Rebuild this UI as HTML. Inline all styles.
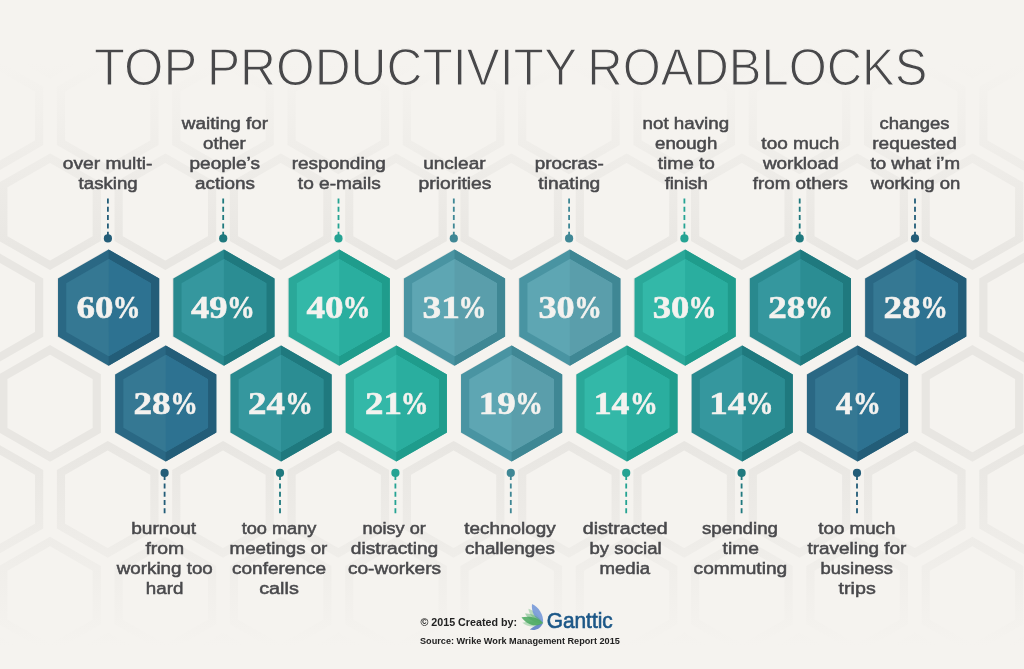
<!DOCTYPE html><html><head><meta charset="utf-8"><title>Top Productivity Roadblocks</title>
<style>html,body{margin:0;padding:0;background:#f5f3ef;overflow:hidden}svg{display:block}.t{font-family:"Liberation Sans",sans-serif;font-size:52.4px;fill:#48484a;stroke:#f5f3ef;stroke-width:1.25px}.l{font-family:"Liberation Sans",sans-serif;font-size:16.3px;fill:#49494c;stroke:#49494c;stroke-width:0.5px}.n{font-family:"Liberation Serif",serif;font-size:32.6px;font-weight:bold;fill:#f4f2ef;stroke:#f4f2ef;stroke-width:0.6px}.f1{font-family:"Liberation Sans",sans-serif;font-size:10px;font-weight:bold;fill:#222}.f2{font-family:"Liberation Sans",sans-serif;font-size:8.8px;font-weight:bold;fill:#222}.g{font-family:"Liberation Sans",sans-serif;font-size:22.5px;fill:#1c5787;stroke:#1c5787;stroke-width:0.65px}</style></head><body>
<svg width="1024" height="669" viewBox="0 0 1024 669">
<defs><linearGradient id="fade" x1="0" y1="0" x2="0" y2="1"><stop offset="0" stop-color="#f5f3ef" stop-opacity="1"/><stop offset="0.095" stop-color="#f5f3ef" stop-opacity="1"/><stop offset="0.39" stop-color="#f5f3ef" stop-opacity="0"/><stop offset="0.66" stop-color="#f5f3ef" stop-opacity="0"/><stop offset="0.965" stop-color="#f5f3ef" stop-opacity="1"/><stop offset="1" stop-color="#f5f3ef" stop-opacity="1"/></linearGradient></defs>
<rect width="1024" height="669" fill="#f5f3ef"/>
<g fill="none" stroke="#e8e6e2" stroke-width="8.2">
<polygon points="-122.90,-129.43 -76.18,-102.61 -76.18,-48.99 -122.90,-22.17 -169.62,-48.99 -169.62,-102.61"/>
<polygon points="-7.60,-129.43 39.12,-102.61 39.12,-48.99 -7.60,-22.17 -54.32,-48.99 -54.32,-102.61"/>
<polygon points="107.70,-129.43 154.42,-102.61 154.42,-48.99 107.70,-22.17 60.98,-48.99 60.98,-102.61"/>
<polygon points="223.00,-129.43 269.72,-102.61 269.72,-48.99 223.00,-22.17 176.28,-48.99 176.28,-102.61"/>
<polygon points="338.30,-129.43 385.02,-102.61 385.02,-48.99 338.30,-22.17 291.58,-48.99 291.58,-102.61"/>
<polygon points="453.60,-129.43 500.32,-102.61 500.32,-48.99 453.60,-22.17 406.88,-48.99 406.88,-102.61"/>
<polygon points="568.90,-129.43 615.62,-102.61 615.62,-48.99 568.90,-22.17 522.18,-48.99 522.18,-102.61"/>
<polygon points="684.20,-129.43 730.92,-102.61 730.92,-48.99 684.20,-22.17 637.48,-48.99 637.48,-102.61"/>
<polygon points="799.50,-129.43 846.22,-102.61 846.22,-48.99 799.50,-22.17 752.78,-48.99 752.78,-102.61"/>
<polygon points="914.80,-129.43 961.52,-102.61 961.52,-48.99 914.80,-22.17 868.08,-48.99 868.08,-102.61"/>
<polygon points="1030.10,-129.43 1076.82,-102.61 1076.82,-48.99 1030.10,-22.17 983.38,-48.99 983.38,-102.61"/>
<polygon points="1145.40,-129.43 1192.12,-102.61 1192.12,-48.99 1145.40,-22.17 1098.68,-48.99 1098.68,-102.61"/>
<polygon points="-65.25,-33.58 -18.53,-6.76 -18.53,46.86 -65.25,73.68 -111.97,46.86 -111.97,-6.76"/>
<polygon points="50.05,-33.58 96.77,-6.76 96.77,46.86 50.05,73.68 3.33,46.86 3.33,-6.76"/>
<polygon points="165.35,-33.58 212.07,-6.76 212.07,46.86 165.35,73.68 118.63,46.86 118.63,-6.76"/>
<polygon points="280.65,-33.58 327.37,-6.76 327.37,46.86 280.65,73.68 233.93,46.86 233.93,-6.76"/>
<polygon points="395.95,-33.58 442.67,-6.76 442.67,46.86 395.95,73.68 349.23,46.86 349.23,-6.76"/>
<polygon points="511.25,-33.58 557.97,-6.76 557.97,46.86 511.25,73.68 464.53,46.86 464.53,-6.76"/>
<polygon points="626.55,-33.58 673.27,-6.76 673.27,46.86 626.55,73.68 579.83,46.86 579.83,-6.76"/>
<polygon points="741.85,-33.58 788.57,-6.76 788.57,46.86 741.85,73.68 695.13,46.86 695.13,-6.76"/>
<polygon points="857.15,-33.58 903.87,-6.76 903.87,46.86 857.15,73.68 810.43,46.86 810.43,-6.76"/>
<polygon points="972.45,-33.58 1019.17,-6.76 1019.17,46.86 972.45,73.68 925.73,46.86 925.73,-6.76"/>
<polygon points="1087.75,-33.58 1134.47,-6.76 1134.47,46.86 1087.75,73.68 1041.03,46.86 1041.03,-6.76"/>
<polygon points="1203.05,-33.58 1249.77,-6.76 1249.77,46.86 1203.05,73.68 1156.33,46.86 1156.33,-6.76"/>
<polygon points="-122.90,62.27 -76.18,89.09 -76.18,142.71 -122.90,169.53 -169.62,142.71 -169.62,89.09"/>
<polygon points="-7.60,62.27 39.12,89.09 39.12,142.71 -7.60,169.53 -54.32,142.71 -54.32,89.09"/>
<polygon points="107.70,62.27 154.42,89.09 154.42,142.71 107.70,169.53 60.98,142.71 60.98,89.09"/>
<polygon points="223.00,62.27 269.72,89.09 269.72,142.71 223.00,169.53 176.28,142.71 176.28,89.09"/>
<polygon points="338.30,62.27 385.02,89.09 385.02,142.71 338.30,169.53 291.58,142.71 291.58,89.09"/>
<polygon points="453.60,62.27 500.32,89.09 500.32,142.71 453.60,169.53 406.88,142.71 406.88,89.09"/>
<polygon points="568.90,62.27 615.62,89.09 615.62,142.71 568.90,169.53 522.18,142.71 522.18,89.09"/>
<polygon points="684.20,62.27 730.92,89.09 730.92,142.71 684.20,169.53 637.48,142.71 637.48,89.09"/>
<polygon points="799.50,62.27 846.22,89.09 846.22,142.71 799.50,169.53 752.78,142.71 752.78,89.09"/>
<polygon points="914.80,62.27 961.52,89.09 961.52,142.71 914.80,169.53 868.08,142.71 868.08,89.09"/>
<polygon points="1030.10,62.27 1076.82,89.09 1076.82,142.71 1030.10,169.53 983.38,142.71 983.38,89.09"/>
<polygon points="1145.40,62.27 1192.12,89.09 1192.12,142.71 1145.40,169.53 1098.68,142.71 1098.68,89.09"/>
<polygon points="-65.25,158.12 -18.53,184.94 -18.53,238.56 -65.25,265.38 -111.97,238.56 -111.97,184.94"/>
<polygon points="50.05,158.12 96.77,184.94 96.77,238.56 50.05,265.38 3.33,238.56 3.33,184.94"/>
<polygon points="165.35,158.12 212.07,184.94 212.07,238.56 165.35,265.38 118.63,238.56 118.63,184.94"/>
<polygon points="280.65,158.12 327.37,184.94 327.37,238.56 280.65,265.38 233.93,238.56 233.93,184.94"/>
<polygon points="395.95,158.12 442.67,184.94 442.67,238.56 395.95,265.38 349.23,238.56 349.23,184.94"/>
<polygon points="511.25,158.12 557.97,184.94 557.97,238.56 511.25,265.38 464.53,238.56 464.53,184.94"/>
<polygon points="626.55,158.12 673.27,184.94 673.27,238.56 626.55,265.38 579.83,238.56 579.83,184.94"/>
<polygon points="741.85,158.12 788.57,184.94 788.57,238.56 741.85,265.38 695.13,238.56 695.13,184.94"/>
<polygon points="857.15,158.12 903.87,184.94 903.87,238.56 857.15,265.38 810.43,238.56 810.43,184.94"/>
<polygon points="972.45,158.12 1019.17,184.94 1019.17,238.56 972.45,265.38 925.73,238.56 925.73,184.94"/>
<polygon points="1087.75,158.12 1134.47,184.94 1134.47,238.56 1087.75,265.38 1041.03,238.56 1041.03,184.94"/>
<polygon points="1203.05,158.12 1249.77,184.94 1249.77,238.56 1203.05,265.38 1156.33,238.56 1156.33,184.94"/>
<polygon points="-122.90,253.97 -76.18,280.79 -76.18,334.41 -122.90,361.23 -169.62,334.41 -169.62,280.79"/>
<polygon points="-7.60,253.97 39.12,280.79 39.12,334.41 -7.60,361.23 -54.32,334.41 -54.32,280.79"/>
<polygon points="107.70,253.97 154.42,280.79 154.42,334.41 107.70,361.23 60.98,334.41 60.98,280.79"/>
<polygon points="223.00,253.97 269.72,280.79 269.72,334.41 223.00,361.23 176.28,334.41 176.28,280.79"/>
<polygon points="338.30,253.97 385.02,280.79 385.02,334.41 338.30,361.23 291.58,334.41 291.58,280.79"/>
<polygon points="453.60,253.97 500.32,280.79 500.32,334.41 453.60,361.23 406.88,334.41 406.88,280.79"/>
<polygon points="568.90,253.97 615.62,280.79 615.62,334.41 568.90,361.23 522.18,334.41 522.18,280.79"/>
<polygon points="684.20,253.97 730.92,280.79 730.92,334.41 684.20,361.23 637.48,334.41 637.48,280.79"/>
<polygon points="799.50,253.97 846.22,280.79 846.22,334.41 799.50,361.23 752.78,334.41 752.78,280.79"/>
<polygon points="914.80,253.97 961.52,280.79 961.52,334.41 914.80,361.23 868.08,334.41 868.08,280.79"/>
<polygon points="1030.10,253.97 1076.82,280.79 1076.82,334.41 1030.10,361.23 983.38,334.41 983.38,280.79"/>
<polygon points="1145.40,253.97 1192.12,280.79 1192.12,334.41 1145.40,361.23 1098.68,334.41 1098.68,280.79"/>
<polygon points="-65.25,349.82 -18.53,376.64 -18.53,430.26 -65.25,457.08 -111.97,430.26 -111.97,376.64"/>
<polygon points="50.05,349.82 96.77,376.64 96.77,430.26 50.05,457.08 3.33,430.26 3.33,376.64"/>
<polygon points="165.35,349.82 212.07,376.64 212.07,430.26 165.35,457.08 118.63,430.26 118.63,376.64"/>
<polygon points="280.65,349.82 327.37,376.64 327.37,430.26 280.65,457.08 233.93,430.26 233.93,376.64"/>
<polygon points="395.95,349.82 442.67,376.64 442.67,430.26 395.95,457.08 349.23,430.26 349.23,376.64"/>
<polygon points="511.25,349.82 557.97,376.64 557.97,430.26 511.25,457.08 464.53,430.26 464.53,376.64"/>
<polygon points="626.55,349.82 673.27,376.64 673.27,430.26 626.55,457.08 579.83,430.26 579.83,376.64"/>
<polygon points="741.85,349.82 788.57,376.64 788.57,430.26 741.85,457.08 695.13,430.26 695.13,376.64"/>
<polygon points="857.15,349.82 903.87,376.64 903.87,430.26 857.15,457.08 810.43,430.26 810.43,376.64"/>
<polygon points="972.45,349.82 1019.17,376.64 1019.17,430.26 972.45,457.08 925.73,430.26 925.73,376.64"/>
<polygon points="1087.75,349.82 1134.47,376.64 1134.47,430.26 1087.75,457.08 1041.03,430.26 1041.03,376.64"/>
<polygon points="1203.05,349.82 1249.77,376.64 1249.77,430.26 1203.05,457.08 1156.33,430.26 1156.33,376.64"/>
<polygon points="-122.90,445.67 -76.18,472.49 -76.18,526.11 -122.90,552.93 -169.62,526.11 -169.62,472.49"/>
<polygon points="-7.60,445.67 39.12,472.49 39.12,526.11 -7.60,552.93 -54.32,526.11 -54.32,472.49"/>
<polygon points="107.70,445.67 154.42,472.49 154.42,526.11 107.70,552.93 60.98,526.11 60.98,472.49"/>
<polygon points="223.00,445.67 269.72,472.49 269.72,526.11 223.00,552.93 176.28,526.11 176.28,472.49"/>
<polygon points="338.30,445.67 385.02,472.49 385.02,526.11 338.30,552.93 291.58,526.11 291.58,472.49"/>
<polygon points="453.60,445.67 500.32,472.49 500.32,526.11 453.60,552.93 406.88,526.11 406.88,472.49"/>
<polygon points="568.90,445.67 615.62,472.49 615.62,526.11 568.90,552.93 522.18,526.11 522.18,472.49"/>
<polygon points="684.20,445.67 730.92,472.49 730.92,526.11 684.20,552.93 637.48,526.11 637.48,472.49"/>
<polygon points="799.50,445.67 846.22,472.49 846.22,526.11 799.50,552.93 752.78,526.11 752.78,472.49"/>
<polygon points="914.80,445.67 961.52,472.49 961.52,526.11 914.80,552.93 868.08,526.11 868.08,472.49"/>
<polygon points="1030.10,445.67 1076.82,472.49 1076.82,526.11 1030.10,552.93 983.38,526.11 983.38,472.49"/>
<polygon points="1145.40,445.67 1192.12,472.49 1192.12,526.11 1145.40,552.93 1098.68,526.11 1098.68,472.49"/>
<polygon points="-65.25,541.52 -18.53,568.34 -18.53,621.96 -65.25,648.78 -111.97,621.96 -111.97,568.34"/>
<polygon points="50.05,541.52 96.77,568.34 96.77,621.96 50.05,648.78 3.33,621.96 3.33,568.34"/>
<polygon points="165.35,541.52 212.07,568.34 212.07,621.96 165.35,648.78 118.63,621.96 118.63,568.34"/>
<polygon points="280.65,541.52 327.37,568.34 327.37,621.96 280.65,648.78 233.93,621.96 233.93,568.34"/>
<polygon points="395.95,541.52 442.67,568.34 442.67,621.96 395.95,648.78 349.23,621.96 349.23,568.34"/>
<polygon points="511.25,541.52 557.97,568.34 557.97,621.96 511.25,648.78 464.53,621.96 464.53,568.34"/>
<polygon points="626.55,541.52 673.27,568.34 673.27,621.96 626.55,648.78 579.83,621.96 579.83,568.34"/>
<polygon points="741.85,541.52 788.57,568.34 788.57,621.96 741.85,648.78 695.13,621.96 695.13,568.34"/>
<polygon points="857.15,541.52 903.87,568.34 903.87,621.96 857.15,648.78 810.43,621.96 810.43,568.34"/>
<polygon points="972.45,541.52 1019.17,568.34 1019.17,621.96 972.45,648.78 925.73,621.96 925.73,568.34"/>
<polygon points="1087.75,541.52 1134.47,568.34 1134.47,621.96 1087.75,648.78 1041.03,621.96 1041.03,568.34"/>
<polygon points="1203.05,541.52 1249.77,568.34 1249.77,621.96 1203.05,648.78 1156.33,621.96 1156.33,568.34"/>
<polygon points="-122.90,637.37 -76.18,664.19 -76.18,717.81 -122.90,744.63 -169.62,717.81 -169.62,664.19"/>
<polygon points="-7.60,637.37 39.12,664.19 39.12,717.81 -7.60,744.63 -54.32,717.81 -54.32,664.19"/>
<polygon points="107.70,637.37 154.42,664.19 154.42,717.81 107.70,744.63 60.98,717.81 60.98,664.19"/>
<polygon points="223.00,637.37 269.72,664.19 269.72,717.81 223.00,744.63 176.28,717.81 176.28,664.19"/>
<polygon points="338.30,637.37 385.02,664.19 385.02,717.81 338.30,744.63 291.58,717.81 291.58,664.19"/>
<polygon points="453.60,637.37 500.32,664.19 500.32,717.81 453.60,744.63 406.88,717.81 406.88,664.19"/>
<polygon points="568.90,637.37 615.62,664.19 615.62,717.81 568.90,744.63 522.18,717.81 522.18,664.19"/>
<polygon points="684.20,637.37 730.92,664.19 730.92,717.81 684.20,744.63 637.48,717.81 637.48,664.19"/>
<polygon points="799.50,637.37 846.22,664.19 846.22,717.81 799.50,744.63 752.78,717.81 752.78,664.19"/>
<polygon points="914.80,637.37 961.52,664.19 961.52,717.81 914.80,744.63 868.08,717.81 868.08,664.19"/>
<polygon points="1030.10,637.37 1076.82,664.19 1076.82,717.81 1030.10,744.63 983.38,717.81 983.38,664.19"/>
<polygon points="1145.40,637.37 1192.12,664.19 1192.12,717.81 1145.40,744.63 1098.68,717.81 1098.68,664.19"/>
</g>
<rect width="1024" height="669" fill="url(#fade)"/>
<polygon points="108.60,249.55 159.18,278.58 159.18,336.62 108.60,365.65 58.02,336.62 58.02,278.58" fill="#2a6884"/>
<polygon points="108.60,249.55 159.18,278.58 159.18,336.62 108.60,365.65" fill="#235d78"/>
<polygon points="108.60,258.99 150.95,283.30 150.95,331.90 108.60,356.21 66.25,331.90 66.25,283.30" fill="#357893"/>
<polygon points="108.60,258.99 150.95,283.30 150.95,331.90 108.60,356.21" fill="#2d7291"/>
<line x1="107.9" y1="198.5" x2="107.9" y2="238" stroke="#235d78" stroke-width="1.8" stroke-dasharray="5 3.3"/>
<circle cx="107.9" cy="238.4" r="4.1" fill="#235d78"/>
<polygon points="223.90,249.55 274.48,278.58 274.48,336.62 223.90,365.65 173.32,336.62 173.32,278.58" fill="#29898e"/>
<polygon points="223.90,249.55 274.48,278.58 274.48,336.62 223.90,365.65" fill="#1f797e"/>
<polygon points="223.90,258.99 266.25,283.30 266.25,331.90 223.90,356.21 181.55,331.90 181.55,283.30" fill="#35979e"/>
<polygon points="223.90,258.99 266.25,283.30 266.25,331.90 223.90,356.21" fill="#2b8d93"/>
<line x1="223.2" y1="198.5" x2="223.2" y2="238" stroke="#1f797e" stroke-width="1.8" stroke-dasharray="5 3.3"/>
<circle cx="223.2" cy="238.4" r="4.1" fill="#1f797e"/>
<polygon points="339.20,249.55 389.78,278.58 389.78,336.62 339.20,365.65 288.62,336.62 288.62,278.58" fill="#2aa899"/>
<polygon points="339.20,249.55 389.78,278.58 389.78,336.62 339.20,365.65" fill="#1f9c8c"/>
<polygon points="339.20,258.99 381.55,283.30 381.55,331.90 339.20,356.21 296.85,331.90 296.85,283.30" fill="#33b8a8"/>
<polygon points="339.20,258.99 381.55,283.30 381.55,331.90 339.20,356.21" fill="#2aae9f"/>
<line x1="338.5" y1="198.5" x2="338.5" y2="238" stroke="#25a393" stroke-width="1.8" stroke-dasharray="5 3.3"/>
<circle cx="338.5" cy="238.4" r="4.1" fill="#25a393"/>
<polygon points="454.50,249.55 505.08,278.58 505.08,336.62 454.50,365.65 403.92,336.62 403.92,278.58" fill="#4994a2"/>
<polygon points="454.50,249.55 505.08,278.58 505.08,336.62 454.50,365.65" fill="#3f8794"/>
<polygon points="454.50,258.99 496.85,283.30 496.85,331.90 454.50,356.21 412.15,331.90 412.15,283.30" fill="#5ea6b3"/>
<polygon points="454.50,258.99 496.85,283.30 496.85,331.90 454.50,356.21" fill="#5a9eab"/>
<line x1="453.8" y1="198.5" x2="453.8" y2="238" stroke="#3f8795" stroke-width="1.8" stroke-dasharray="5 3.3"/>
<circle cx="453.8" cy="238.4" r="4.1" fill="#3f8795"/>
<polygon points="569.80,249.55 620.38,278.58 620.38,336.62 569.80,365.65 519.22,336.62 519.22,278.58" fill="#4994a2"/>
<polygon points="569.80,249.55 620.38,278.58 620.38,336.62 569.80,365.65" fill="#3f8794"/>
<polygon points="569.80,258.99 612.15,283.30 612.15,331.90 569.80,356.21 527.45,331.90 527.45,283.30" fill="#5ea6b3"/>
<polygon points="569.80,258.99 612.15,283.30 612.15,331.90 569.80,356.21" fill="#5a9eab"/>
<line x1="569.1" y1="198.5" x2="569.1" y2="238" stroke="#3f8795" stroke-width="1.8" stroke-dasharray="5 3.3"/>
<circle cx="569.1" cy="238.4" r="4.1" fill="#3f8795"/>
<polygon points="685.10,249.55 735.68,278.58 735.68,336.62 685.10,365.65 634.52,336.62 634.52,278.58" fill="#2aa899"/>
<polygon points="685.10,249.55 735.68,278.58 735.68,336.62 685.10,365.65" fill="#1f9c8c"/>
<polygon points="685.10,258.99 727.45,283.30 727.45,331.90 685.10,356.21 642.75,331.90 642.75,283.30" fill="#33b8a8"/>
<polygon points="685.10,258.99 727.45,283.30 727.45,331.90 685.10,356.21" fill="#2aae9f"/>
<line x1="684.4" y1="198.5" x2="684.4" y2="238" stroke="#25a393" stroke-width="1.8" stroke-dasharray="5 3.3"/>
<circle cx="684.4" cy="238.4" r="4.1" fill="#25a393"/>
<polygon points="800.40,249.55 850.98,278.58 850.98,336.62 800.40,365.65 749.82,336.62 749.82,278.58" fill="#29898e"/>
<polygon points="800.40,249.55 850.98,278.58 850.98,336.62 800.40,365.65" fill="#1f797e"/>
<polygon points="800.40,258.99 842.75,283.30 842.75,331.90 800.40,356.21 758.05,331.90 758.05,283.30" fill="#35979e"/>
<polygon points="800.40,258.99 842.75,283.30 842.75,331.90 800.40,356.21" fill="#2b8d93"/>
<line x1="799.7" y1="198.5" x2="799.7" y2="238" stroke="#1f797e" stroke-width="1.8" stroke-dasharray="5 3.3"/>
<circle cx="799.7" cy="238.4" r="4.1" fill="#1f797e"/>
<polygon points="915.70,249.55 966.28,278.58 966.28,336.62 915.70,365.65 865.12,336.62 865.12,278.58" fill="#2a6884"/>
<polygon points="915.70,249.55 966.28,278.58 966.28,336.62 915.70,365.65" fill="#235d78"/>
<polygon points="915.70,258.99 958.05,283.30 958.05,331.90 915.70,356.21 873.35,331.90 873.35,283.30" fill="#357893"/>
<polygon points="915.70,258.99 958.05,283.30 958.05,331.90 915.70,356.21" fill="#2d7291"/>
<line x1="915.0" y1="198.5" x2="915.0" y2="238" stroke="#235d78" stroke-width="1.8" stroke-dasharray="5 3.3"/>
<circle cx="915.0" cy="238.4" r="4.1" fill="#235d78"/>
<polygon points="165.70,345.40 216.28,374.43 216.28,432.47 165.70,461.50 115.12,432.47 115.12,374.43" fill="#2a6884"/>
<polygon points="165.70,345.40 216.28,374.43 216.28,432.47 165.70,461.50" fill="#235d78"/>
<polygon points="165.70,354.84 208.05,379.15 208.05,427.75 165.70,452.06 123.35,427.75 123.35,379.15" fill="#357893"/>
<polygon points="165.70,354.84 208.05,379.15 208.05,427.75 165.70,452.06" fill="#2d7291"/>
<line x1="164.6" y1="513.3" x2="164.6" y2="473" stroke="#235d78" stroke-width="1.8" stroke-dasharray="5 3.3"/>
<circle cx="164.6" cy="472.9" r="4.1" fill="#235d78"/>
<polygon points="281.00,345.40 331.58,374.43 331.58,432.47 281.00,461.50 230.42,432.47 230.42,374.43" fill="#29898e"/>
<polygon points="281.00,345.40 331.58,374.43 331.58,432.47 281.00,461.50" fill="#1f797e"/>
<polygon points="281.00,354.84 323.35,379.15 323.35,427.75 281.00,452.06 238.65,427.75 238.65,379.15" fill="#35979e"/>
<polygon points="281.00,354.84 323.35,379.15 323.35,427.75 281.00,452.06" fill="#2b8d93"/>
<line x1="280.0" y1="513.3" x2="280.0" y2="473" stroke="#1f797e" stroke-width="1.8" stroke-dasharray="5 3.3"/>
<circle cx="280.0" cy="472.9" r="4.1" fill="#1f797e"/>
<polygon points="396.30,345.40 446.88,374.43 446.88,432.47 396.30,461.50 345.72,432.47 345.72,374.43" fill="#2aa899"/>
<polygon points="396.30,345.40 446.88,374.43 446.88,432.47 396.30,461.50" fill="#1f9c8c"/>
<polygon points="396.30,354.84 438.65,379.15 438.65,427.75 396.30,452.06 353.95,427.75 353.95,379.15" fill="#33b8a8"/>
<polygon points="396.30,354.84 438.65,379.15 438.65,427.75 396.30,452.06" fill="#2aae9f"/>
<line x1="395.4" y1="513.3" x2="395.4" y2="473" stroke="#25a393" stroke-width="1.8" stroke-dasharray="5 3.3"/>
<circle cx="395.4" cy="472.9" r="4.1" fill="#25a393"/>
<polygon points="511.60,345.40 562.18,374.43 562.18,432.47 511.60,461.50 461.02,432.47 461.02,374.43" fill="#4994a2"/>
<polygon points="511.60,345.40 562.18,374.43 562.18,432.47 511.60,461.50" fill="#3f8794"/>
<polygon points="511.60,354.84 553.95,379.15 553.95,427.75 511.60,452.06 469.25,427.75 469.25,379.15" fill="#5ea6b3"/>
<polygon points="511.60,354.84 553.95,379.15 553.95,427.75 511.60,452.06" fill="#5a9eab"/>
<line x1="510.8" y1="513.3" x2="510.8" y2="473" stroke="#3f8795" stroke-width="1.8" stroke-dasharray="5 3.3"/>
<circle cx="510.8" cy="472.9" r="4.1" fill="#3f8795"/>
<polygon points="626.90,345.40 677.48,374.43 677.48,432.47 626.90,461.50 576.32,432.47 576.32,374.43" fill="#2aa899"/>
<polygon points="626.90,345.40 677.48,374.43 677.48,432.47 626.90,461.50" fill="#1f9c8c"/>
<polygon points="626.90,354.84 669.25,379.15 669.25,427.75 626.90,452.06 584.55,427.75 584.55,379.15" fill="#33b8a8"/>
<polygon points="626.90,354.84 669.25,379.15 669.25,427.75 626.90,452.06" fill="#2aae9f"/>
<line x1="626.2" y1="513.3" x2="626.2" y2="473" stroke="#25a393" stroke-width="1.8" stroke-dasharray="5 3.3"/>
<circle cx="626.2" cy="472.9" r="4.1" fill="#25a393"/>
<polygon points="742.20,345.40 792.78,374.43 792.78,432.47 742.20,461.50 691.62,432.47 691.62,374.43" fill="#29898e"/>
<polygon points="742.20,345.40 792.78,374.43 792.78,432.47 742.20,461.50" fill="#1f797e"/>
<polygon points="742.20,354.84 784.55,379.15 784.55,427.75 742.20,452.06 699.85,427.75 699.85,379.15" fill="#35979e"/>
<polygon points="742.20,354.84 784.55,379.15 784.55,427.75 742.20,452.06" fill="#2b8d93"/>
<line x1="741.6" y1="513.3" x2="741.6" y2="473" stroke="#1f797e" stroke-width="1.8" stroke-dasharray="5 3.3"/>
<circle cx="741.6" cy="472.9" r="4.1" fill="#1f797e"/>
<polygon points="857.50,345.40 908.08,374.43 908.08,432.47 857.50,461.50 806.92,432.47 806.92,374.43" fill="#2a6884"/>
<polygon points="857.50,345.40 908.08,374.43 908.08,432.47 857.50,461.50" fill="#235d78"/>
<polygon points="857.50,354.84 899.85,379.15 899.85,427.75 857.50,452.06 815.15,427.75 815.15,379.15" fill="#357893"/>
<polygon points="857.50,354.84 899.85,379.15 899.85,427.75 857.50,452.06" fill="#2d7291"/>
<line x1="857.0" y1="513.3" x2="857.0" y2="473" stroke="#235d78" stroke-width="1.8" stroke-dasharray="5 3.3"/>
<circle cx="857.0" cy="472.9" r="4.1" fill="#235d78"/>
<g><path d="M543.1,623 C539.5,615.5 533.5,610 528.4,608.8 C529,614.5 533.5,620.5 543.1,623Z" fill="#86c694" opacity="0.55"/><path d="M543.1,623 C535,620.6 528,621.3 522.4,622.7 C527,626.8 535.5,628.6 543.1,623Z" fill="#86c694" opacity="0.55"/><path d="M543.1,623 C543.8,614.5 538.5,607 532,604 C531.2,611 534,619 543.1,623Z" fill="#7396d8" opacity="0.88"/><path d="M543.1,623 C538,623.8 533,626.8 529.8,629.6 C535.5,631.2 540.5,628.4 543.1,623Z" fill="#5a7cc4" opacity="0.88"/><path d="M543.1,623 C538.5,616 531,613.2 525,613.6 C528,619.5 534.5,623.5 543.1,623Z" fill="#4fa866" opacity="0.45"/><path d="M543.1,623 C537,616.5 528,616 521.5,617.3 C526.5,624.5 535,628 543.1,623Z" fill="#48a75e" opacity="0.85"/></g>
<text class="l" x="62.69" y="168.5" textLength="89.72" lengthAdjust="spacingAndGlyphs">over multi-</text>
<text class="l" x="78.62" y="188.5" textLength="59.07" lengthAdjust="spacingAndGlyphs">tasking</text>
<text class="l" x="181.77" y="128.5" textLength="86.31" lengthAdjust="spacingAndGlyphs">waiting for</text>
<text class="l" x="203.02" y="148.5" textLength="42.72" lengthAdjust="spacingAndGlyphs">other</text>
<text class="l" x="189.56" y="168.5" textLength="70.43" lengthAdjust="spacingAndGlyphs">people’s</text>
<text class="l" x="195.02" y="188.5" textLength="59.81" lengthAdjust="spacingAndGlyphs">actions</text>
<text class="l" x="291.71" y="168.5" textLength="94.13" lengthAdjust="spacingAndGlyphs">responding</text>
<text class="l" x="297.83" y="188.5" textLength="82.89" lengthAdjust="spacingAndGlyphs">to e-mails</text>
<text class="l" x="423.21" y="168.5" textLength="62.40" lengthAdjust="spacingAndGlyphs">unclear</text>
<text class="l" x="418.47" y="188.5" textLength="73.06" lengthAdjust="spacingAndGlyphs">priorities</text>
<text class="l" x="534.67" y="168.5" textLength="69.11" lengthAdjust="spacingAndGlyphs">procras-</text>
<text class="l" x="538.38" y="188.5" textLength="61.88" lengthAdjust="spacingAndGlyphs">tinating</text>
<text class="l" x="642.62" y="128.5" textLength="86.45" lengthAdjust="spacingAndGlyphs">not having</text>
<text class="l" x="655.11" y="148.5" textLength="62.24" lengthAdjust="spacingAndGlyphs">enough</text>
<text class="l" x="657.83" y="168.5" textLength="57.08" lengthAdjust="spacingAndGlyphs">time to</text>
<text class="l" x="664.65" y="188.5" textLength="43.09" lengthAdjust="spacingAndGlyphs">finish</text>
<text class="l" x="761.39" y="148.5" textLength="78.02" lengthAdjust="spacingAndGlyphs">too much</text>
<text class="l" x="762.99" y="168.5" textLength="75.59" lengthAdjust="spacingAndGlyphs">workload</text>
<text class="l" x="752.82" y="188.5" textLength="94.98" lengthAdjust="spacingAndGlyphs">from others</text>
<text class="l" x="879.61" y="128.5" textLength="69.86" lengthAdjust="spacingAndGlyphs">changes</text>
<text class="l" x="872.27" y="148.5" textLength="84.46" lengthAdjust="spacingAndGlyphs">requested</text>
<text class="l" x="870.52" y="168.5" textLength="89.58" lengthAdjust="spacingAndGlyphs">to what i’m</text>
<text class="l" x="870.77" y="188.5" textLength="89.53" lengthAdjust="spacingAndGlyphs">working on</text>
<text class="l" x="131.18" y="534.0" textLength="64.95" lengthAdjust="spacingAndGlyphs">burnout</text>
<text class="l" x="145.41" y="554.0" textLength="38.78" lengthAdjust="spacingAndGlyphs">from</text>
<text class="l" x="116.73" y="574.0" textLength="96.07" lengthAdjust="spacingAndGlyphs">working too</text>
<text class="l" x="145.81" y="594.0" textLength="37.52" lengthAdjust="spacingAndGlyphs">hard</text>
<text class="l" x="241.67" y="534.0" textLength="74.75" lengthAdjust="spacingAndGlyphs">too many</text>
<text class="l" x="229.56" y="554.0" textLength="97.81" lengthAdjust="spacingAndGlyphs">meetings or</text>
<text class="l" x="232.02" y="574.0" textLength="94.01" lengthAdjust="spacingAndGlyphs">conference</text>
<text class="l" x="259.19" y="594.0" textLength="39.65" lengthAdjust="spacingAndGlyphs">calls</text>
<text class="l" x="362.41" y="534.0" textLength="63.37" lengthAdjust="spacingAndGlyphs">noisy or</text>
<text class="l" x="350.78" y="554.0" textLength="87.56" lengthAdjust="spacingAndGlyphs">distracting</text>
<text class="l" x="347.94" y="574.0" textLength="93.11" lengthAdjust="spacingAndGlyphs">co-workers</text>
<text class="l" x="464.38" y="534.0" textLength="91.22" lengthAdjust="spacingAndGlyphs">technology</text>
<text class="l" x="465.01" y="554.0" textLength="90.00" lengthAdjust="spacingAndGlyphs">challenges</text>
<text class="l" x="582.87" y="534.0" textLength="84.85" lengthAdjust="spacingAndGlyphs">distracted</text>
<text class="l" x="589.50" y="554.0" textLength="72.18" lengthAdjust="spacingAndGlyphs">by social</text>
<text class="l" x="599.43" y="574.0" textLength="50.73" lengthAdjust="spacingAndGlyphs">media</text>
<text class="l" x="701.95" y="534.0" textLength="76.09" lengthAdjust="spacingAndGlyphs">spending</text>
<text class="l" x="722.55" y="554.0" textLength="36.41" lengthAdjust="spacingAndGlyphs">time</text>
<text class="l" x="693.64" y="574.0" textLength="93.59" lengthAdjust="spacingAndGlyphs">commuting</text>
<text class="l" x="818.36" y="534.0" textLength="77.04" lengthAdjust="spacingAndGlyphs">too much</text>
<text class="l" x="807.49" y="554.0" textLength="98.95" lengthAdjust="spacingAndGlyphs">traveling for</text>
<text class="l" x="820.44" y="574.0" textLength="72.51" lengthAdjust="spacingAndGlyphs">business</text>
<text class="l" x="838.60" y="594.0" textLength="37.18" lengthAdjust="spacingAndGlyphs">trips</text>
<text class="n" y="318.2"><tspan x="76.64" textLength="36.94" lengthAdjust="spacingAndGlyphs">60</tspan><tspan x="112.77" textLength="27.72" lengthAdjust="spacingAndGlyphs">%</tspan></text>
<text class="n" y="318.2"><tspan x="191.12" textLength="36.53" lengthAdjust="spacingAndGlyphs">49</tspan><tspan x="226.93" textLength="27.78" lengthAdjust="spacingAndGlyphs">%</tspan></text>
<text class="n" y="318.2"><tspan x="306.49" textLength="37.05" lengthAdjust="spacingAndGlyphs">40</tspan><tspan x="342.77" textLength="27.72" lengthAdjust="spacingAndGlyphs">%</tspan></text>
<text class="n" y="318.2"><tspan x="422.60" textLength="37.24" lengthAdjust="spacingAndGlyphs">31</tspan><tspan x="458.41" textLength="27.76" lengthAdjust="spacingAndGlyphs">%</tspan></text>
<text class="n" y="318.2"><tspan x="538.52" textLength="36.20" lengthAdjust="spacingAndGlyphs">30</tspan><tspan x="574.31" textLength="27.51" lengthAdjust="spacingAndGlyphs">%</tspan></text>
<text class="n" y="318.2"><tspan x="652.73" textLength="36.57" lengthAdjust="spacingAndGlyphs">30</tspan><tspan x="688.41" textLength="27.76" lengthAdjust="spacingAndGlyphs">%</tspan></text>
<text class="n" y="318.2"><tspan x="768.30" textLength="37.00" lengthAdjust="spacingAndGlyphs">28</tspan><tspan x="804.93" textLength="27.78" lengthAdjust="spacingAndGlyphs">%</tspan></text>
<text class="n" y="318.2"><tspan x="883.55" textLength="37.12" lengthAdjust="spacingAndGlyphs">28</tspan><tspan x="920.31" textLength="27.51" lengthAdjust="spacingAndGlyphs">%</tspan></text>
<text class="n" y="413.6"><tspan x="133.55" textLength="37.12" lengthAdjust="spacingAndGlyphs">28</tspan><tspan x="170.31" textLength="27.51" lengthAdjust="spacingAndGlyphs">%</tspan></text>
<text class="n" y="413.6"><tspan x="248.13" textLength="36.86" lengthAdjust="spacingAndGlyphs">24</tspan><tspan x="285.31" textLength="27.51" lengthAdjust="spacingAndGlyphs">%</tspan></text>
<text class="n" y="413.6"><tspan x="365.12" textLength="36.92" lengthAdjust="spacingAndGlyphs">21</tspan><tspan x="400.77" textLength="27.72" lengthAdjust="spacingAndGlyphs">%</tspan></text>
<text class="n" y="413.6"><tspan x="478.70" textLength="36.91" lengthAdjust="spacingAndGlyphs">19</tspan><tspan x="515.31" textLength="27.51" lengthAdjust="spacingAndGlyphs">%</tspan></text>
<text class="n" y="413.6"><tspan x="593.74" textLength="35.78" lengthAdjust="spacingAndGlyphs">14</tspan><tspan x="629.93" textLength="27.78" lengthAdjust="spacingAndGlyphs">%</tspan></text>
<text class="n" y="413.6"><tspan x="709.28" textLength="36.98" lengthAdjust="spacingAndGlyphs">14</tspan><tspan x="745.77" textLength="27.72" lengthAdjust="spacingAndGlyphs">%</tspan></text>
<text class="n" y="413.6"><tspan x="835.88" textLength="16.69" lengthAdjust="spacingAndGlyphs">4</tspan><tspan x="852.93" textLength="27.78" lengthAdjust="spacingAndGlyphs">%</tspan></text>
<text class="t" y="84.85"><tspan x="94.00" textLength="102.32" lengthAdjust="spacingAndGlyphs">TOP</tspan> <tspan x="206.89" textLength="369.40" lengthAdjust="spacingAndGlyphs">PRODUCTIVITY</tspan> <tspan x="587.36" textLength="339.98" lengthAdjust="spacingAndGlyphs">ROADBLOCKS</tspan></text>
<text class="f1" x="420.41" y="625.5" textLength="96.60" lengthAdjust="spacingAndGlyphs">© 2015 Created by:</text>
<text class="f2" x="420.00" y="644.0" textLength="199.86" lengthAdjust="spacingAndGlyphs">Source: Wrike Work Management Report 2015</text>
<text class="g" x="546.66" y="627.8" textLength="66.08" lengthAdjust="spacingAndGlyphs">Ganttic</text>
</svg></body></html>
